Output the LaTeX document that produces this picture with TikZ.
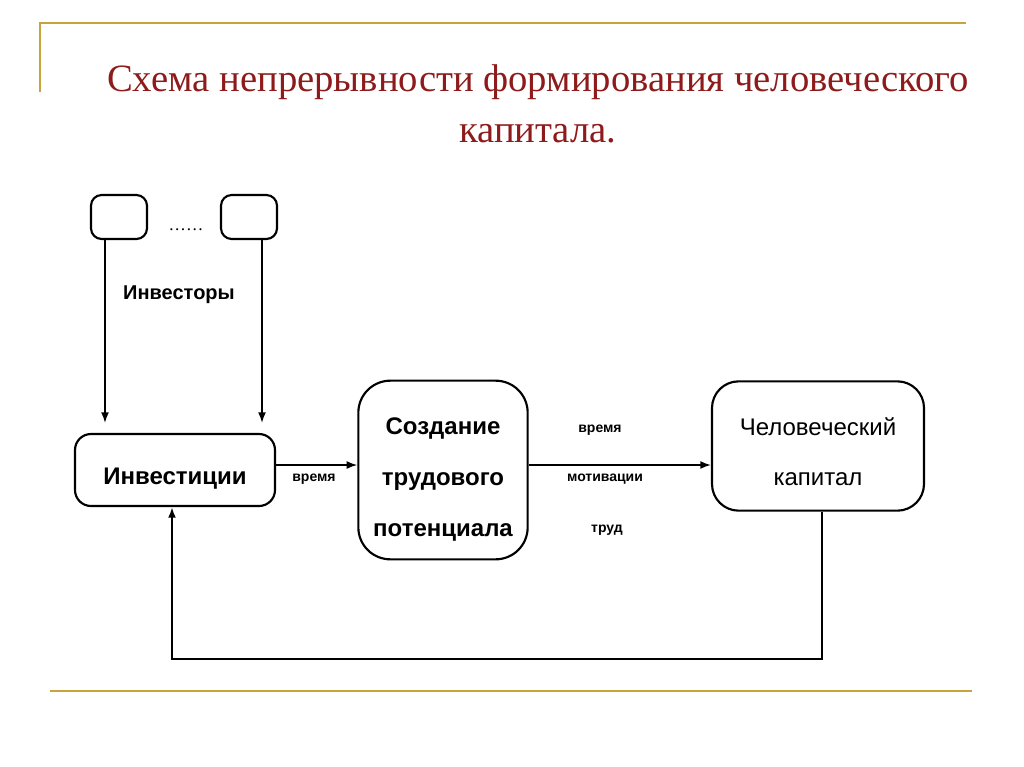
\documentclass[tikz,border=0pt]{standalone}
\usepackage{fontspec}
\setmainfont{Liberation Serif}
\setsansfont{Liberation Sans}
\usepackage{xcolor}
\usetikzlibrary{arrows.meta, positioning, calc}

\definecolor{slidegold}{HTML}{C9A43C}
\definecolor{titlered}{HTML}{8E1B1B}

\begin{document}
\begin{tikzpicture}[x=0.75pt, y=-0.75pt,
    block/.style={draw, line width=1.6pt, rounded corners=12pt, inner sep=0pt},
    lbl/.style={font=\sffamily\bfseries\fontsize{10.5}{12}\selectfont},
    flow/.style={-{Latex[length=8pt, width=6pt]}, line width=1.2pt}]
    \useasboundingbox (0,0) rectangle (1024,767);
    \fill[white] (0,0) rectangle (1024,767);

    % Slide frame
    \draw[slidegold, line width=1.5pt] (40,92) -- (40,23) -- (966,23);
    \draw[slidegold, line width=1.5pt] (50,691) -- (972,691);

    % Title
    \node[text=titlered, font=\fontsize{29}{38}\selectfont, align=center] (title) at (538,104)
      {Схема непрерывности формирования человеческого\\капитала.};

    % Investors
    \node[block, rounded corners=8pt, minimum width=42pt, minimum height=33pt] (inv1) at (119,217) {};
    \node[block, rounded corners=8pt, minimum width=42pt, minimum height=33pt] (inv2) at (249,217) {};
    \node[font=\fontsize{13}{14}\selectfont] (dots) at (186,230) {\ldots\ldots};
    \node[font=\sffamily\bfseries\fontsize{15}{16}\selectfont] (investors) at (179,295) {Инвесторы};

    % Main blocks
    \node[block, minimum width=150pt, minimum height=54pt,
          font=\sffamily\bfseries\fontsize{18}{20}\selectfont] (invest) at (175,470)
      {\rule{0pt}{25pt}Инвестиции};
    \node[block, rounded corners=24pt, minimum width=127pt, minimum height=134pt, align=center,
          font=\sffamily\bfseries\fontsize{18}{38}\selectfont] (labour) at (443,470)
      {\rule{0pt}{27pt}Создание\\трудового\\потенциала};
    \node[block, rounded corners=20pt, minimum width=159pt, minimum height=97pt, align=center,
          font=\sffamily\fontsize{18}{38}\selectfont] (capital) at (818,446)
      {\rule{0pt}{22pt}Человеческий\\капитал};

    % Investor flows
    \coordinate (i1) at ($(inv1.south)+(-14,0)$);
    \coordinate (i2) at ($(inv2.south)+(13,0)$);
    \draw[flow] (i1) -- ($(i1 |- invest.north)+(0,-10)$);
    \draw[flow] (i2) -- ($(i2 |- invest.north)+(0,-10)$);

    % Forward flows
    \draw[flow] (invest.east |- 0,465) -- (labour.west |- 0,465);
    \node[lbl] (time1) at (314,479) {время};
    \draw[flow] (labour.east |- 0,465) -- (capital.west |- 0,465);
    \node[lbl] (time2) at (600,430) {время};
    \node[lbl] (motiv) at (605,479) {мотивации};
    \node[lbl] (work) at (607,530) {труд};

    % Feedback
    \coordinate (fb) at (822,659);
    \draw[flow, line width=2pt] (capital.south -| fb) -- (fb) -| ($(invest.south)+(-3,0)$);
\end{tikzpicture}
\end{document}
